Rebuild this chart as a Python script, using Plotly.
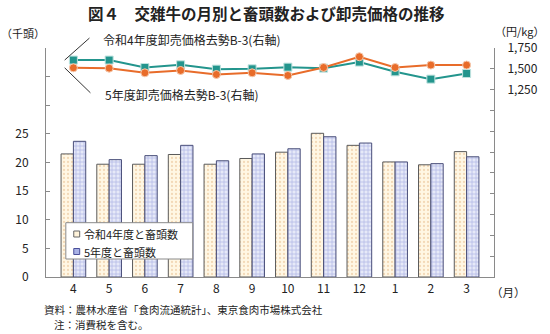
import plotly.graph_objects as go

# Monthly data, fiscal year April -> March
months = ["4", "5", "6", "7", "8", "9", "10", "11", "12", "1", "2", "3"]

# Slaughter head counts (thousand head)
heads_r4 = [21.5, 19.7, 19.7, 21.4, 19.7, 20.7, 21.8, 25.1, 23.0, 20.1, 19.6, 21.9]
heads_r5 = [23.7, 20.5, 21.2, 23.0, 20.3, 21.5, 22.4, 24.5, 23.4, 20.1, 19.8, 21.0]

# Wholesale price, steer B-3 (yen/kg)
price_r4 = [1605, 1605, 1516, 1548, 1496, 1500, 1520, 1508, 1581, 1464, 1376, 1444]
price_r5 = [1512, 1508, 1452, 1480, 1432, 1452, 1420, 1516, 1645, 1516, 1545, 1545]

left_ticks = [0, 5, 10, 15, 20, 25, 30, 35, 40]
left_labels = ["0", "5", "10", "15", "20", "25", "", "", ""]
right_range = [-1000, 1750]
right_ticks = list(range(right_range[0], right_range[1] + 1, 250))
right_labels = [f"{v:,}" if v >= 1250 else "" for v in right_ticks]

FONT = "Noto Sans CJK JP"
TXT = "#222222"
AXIS = "#8a8a8a"

fig = go.Figure()

fig.add_trace(go.Bar(
    x=months, y=heads_r4, name="令和4年度と畜頭数",
    marker=dict(
        color="#fff7e4",
        line=dict(color="#5a5a5a", width=1),
        pattern=dict(shape=".", fgcolor="#e6b98a", bgcolor="#fff7e4",
                     size=4, solidity=0.25),
    ),
))
fig.add_trace(go.Bar(
    x=months, y=heads_r5, name="5年度と畜頭数",
    marker=dict(
        color="#dfe2f6",
        line=dict(color="#4a4f7a", width=1),
        pattern=dict(shape="+", fgcolor="#7d89d6", bgcolor="#e6e9f8",
                     size=4, solidity=0.35),
    ),
))

fig.add_trace(go.Scatter(
    x=months, y=price_r4, yaxis="y2", mode="lines+markers",
    name="令和4年度卸売価格去勢B-3(右軸)",
    line=dict(color="#23958d", width=2),
    marker=dict(symbol="square", size=8, color="#23958d",
                line=dict(color="#bfe3df", width=1)),
))
fig.add_trace(go.Scatter(
    x=months, y=price_r5, yaxis="y2", mode="lines+markers",
    name="5年度卸売価格去勢B-3(右軸)",
    line=dict(color="#e86c2a", width=2),
    marker=dict(symbol="circle", size=8, color="#e86c2a",
                line=dict(color="#f6c9ad", width=1)),
))

# Plot area in pixels (used to place paper-anchored text and the legend box)
W, H = 550, 334
L, R, T, B = 46, 52, 48, 57
pw, ph = W - L - R, H - T - B


def px(x):
    return (x - L) / pw


def py(y):
    return (H - B - y) / ph


def label(text, x, y, size=12, xanchor="center", **kw):
    return dict(text=text, x=px(x), y=py(y), xref="paper", yref="paper",
                xanchor=xanchor, yanchor="middle", showarrow=False,
                font=dict(family=FONT, size=size, color=TXT, **kw))


def leader(value, dx, dy):
    # leader line from the first point of a price series, in axis-domain units
    x0 = 0.5 / len(months)
    y0 = (value - right_range[0]) / (right_range[1] - right_range[0])
    return dict(type="line", xref="x domain", yref="y domain",
                x0=x0, y0=y0, x1=x0 + dx / pw, y1=y0 + dy / ph,
                line=dict(color="#333333", width=1), layer="above")


annotations = [
    label("図４　交雑牛の月別と畜頭数および卸売価格の推移", 268, 13, size=15.5,
          weight="bold"),
    label("（千頭）", 23, 33, size=11),
    label("（円/kg）", 524, 31, size=11),
    label("（月）", 513, 292, size=11.5),
    label("資料：農林水産省「食肉流通統計」、東京食肉市場株式会社", 42, 309,
          size=10.5, xanchor="left"),
    label("注：消費税を含む。", 52, 324, size=10.5, xanchor="left"),
    # Price series labels
    label("令和4年度卸売価格去勢B-3(右軸)", 101, 39, xanchor="left"),
    label("5年度卸売価格去勢B-3(右軸)", 104, 94, xanchor="left"),
    # Legend entries
    label("令和4年度と畜頭数", 82, 234, size=11, xanchor="left"),
    label("5年度と畜頭数", 82, 251.5, size=11, xanchor="left"),
]

shapes = [
    leader(price_r4[0], 25, 22),
    leader(price_r5[0], 26, -25),
    dict(type="rect", xref="paper", yref="paper",
         x0=px(66), x1=px(194), y0=py(259), y1=py(222.7),
         fillcolor="white", line=dict(color="#8a8a8a", width=1), layer="above"),
    dict(type="rect", xref="paper", yref="paper",
         x0=px(74), x1=px(80), y0=py(237), y1=py(231),
         fillcolor="#fff3da", line=dict(color="#666666", width=1), layer="above"),
    dict(type="rect", xref="paper", yref="paper",
         x0=px(74), x1=px(80), y0=py(254.5), y1=py(248.5),
         fillcolor="#a9b2e6", line=dict(color="#4a4f9a", width=1), layer="above"),
]

fig.update_layout(
    width=W, height=H,
    margin=dict(l=L, r=R, t=T, b=B),
    paper_bgcolor="white", plot_bgcolor="white",
    showlegend=False,
    barmode="group", bargap=0.31, bargroupgap=0,
    font=dict(family=FONT, size=12, color=TXT),
    xaxis=dict(
        type="category", showline=True, linecolor=AXIS, linewidth=1,
        ticks="", showgrid=False, ticklabelstandoff=1,
        tickfont=dict(family=FONT, size=12, color=TXT),
    ),
    yaxis=dict(
        range=[0, 40], tickvals=left_ticks, ticktext=left_labels,
        showline=True, linecolor=AXIS, linewidth=1, ticks="inside",
        ticklen=4, tickcolor=AXIS, showgrid=False, zeroline=False,
        ticklabelstandoff=14,
        tickfont=dict(family=FONT, size=12, color=TXT),
    ),
    yaxis2=dict(
        range=right_range, tickvals=right_ticks, ticktext=right_labels,
        overlaying="y", side="right",
        showline=True, linecolor=AXIS, linewidth=1, ticks="inside",
        ticklen=4, tickcolor=AXIS, showgrid=False, zeroline=False,
        ticklabelstandoff=10,
        tickfont=dict(family=FONT, size=12, color=TXT),
    ),
    annotations=annotations,
    shapes=shapes,
)

fig.write_html("out.html")
